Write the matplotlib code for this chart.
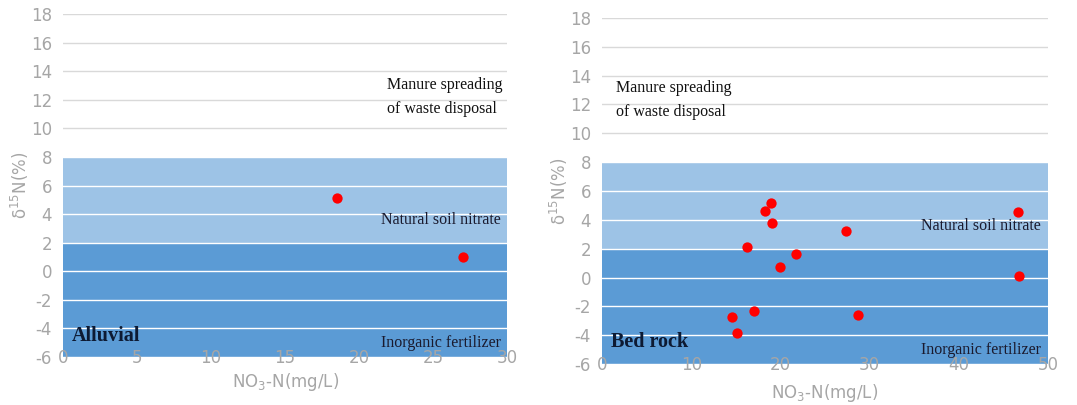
import matplotlib.pyplot as plt

plt.rcParams['axes.unicode_minus'] = False

# Alluvial samples
alluvial_no3 = [18.5, 27.0]
alluvial_d15n = [5.1, 1.0]

# Bed rock samples
bedrock_no3 = [18.9, 18.3, 19.1, 27.4, 16.3, 21.7, 19.9, 46.7, 46.8, 14.6, 17.0, 15.1, 28.7]
bedrock_d15n = [5.15, 4.6, 3.8, 3.25, 2.15, 1.65, 0.7, 4.55, 0.1, -2.75, -2.35, -3.85, -2.6]

y_ticks = list(range(-6, 19, 2))
light_band = (2, 8)
dark_band = (-6, 2)

fig = plt.figure(figsize=(10.77, 4.05), dpi=100)
ax1 = fig.add_axes([0.0585, 0.1185, 0.4125, 0.8465])
ax2 = fig.add_axes([0.559, 0.101, 0.414, 0.855])

tick_color = '#a6a6a6'
serif = 'Liberation Serif'


def setup(ax, xmax, xstep, name, manure_xy, label_pad):
    ax.axhspan(*light_band, color='#9dc3e6', zorder=0, lw=0)
    ax.axhspan(*dark_band, color='#5b9bd5', zorder=0, lw=0)
    for y in y_ticks:
        c = 'white' if y <= 8 else '#d9d9d9'
        ax.axhline(y, color=c, lw=1.0, zorder=1)
    ax.set_xlim(0, xmax)
    ax.set_ylim(-6, 18)
    ax.set_yticks(y_ticks)
    ax.set_xticks(range(0, xmax + 1, xstep))
    for s in ax.spines.values():
        s.set_visible(False)
    ax.tick_params(axis='both', length=0, colors=tick_color, labelsize=12)
    ax.tick_params(axis='x', pad=-6)
    ax.tick_params(axis='y', pad=8)
    ax.set_xlabel('NO$_3$-N(mg/L)', color=tick_color, fontsize=12, labelpad=label_pad)
    ax.set_ylabel('δ$^{15}$N(%)', color=tick_color, fontsize=12, labelpad=0)
    ax.text(manure_xy[0], manure_xy[1], 'Manure spreading\nof waste disposal',
            family=serif, fontsize=11.5, color='#111111', va='center', ha='left',
            linespacing=1.6)
    ax.text(0.985 * xmax, 3.6, 'Natural soil nitrate', family=serif, fontsize=11.5,
            color='#1a1a2e', va='center', ha='right')
    ax.text(0.985 * xmax, -5.0, 'Inorganic fertilizer', family=serif, fontsize=11.5,
            color='#1a1a2e', va='center', ha='right')
    ax.text(0.02 * xmax, -4.5, name, family=serif, fontsize=14.5, fontweight='bold',
            color='#0d1a33', va='center', ha='left')


setup(ax1, 30, 5, 'Alluvial', (21.9, 12.2), 3)
setup(ax2, 50, 10, 'Bed rock', (1.6, 12.3), 6)

ax1.scatter(alluvial_no3, alluvial_d15n, s=55, color='#ff0000', zorder=3, lw=0)
ax2.scatter(bedrock_no3, bedrock_d15n, s=55, color='#ff0000', zorder=3, lw=0)

fig.savefig('out.png', dpi=100)
